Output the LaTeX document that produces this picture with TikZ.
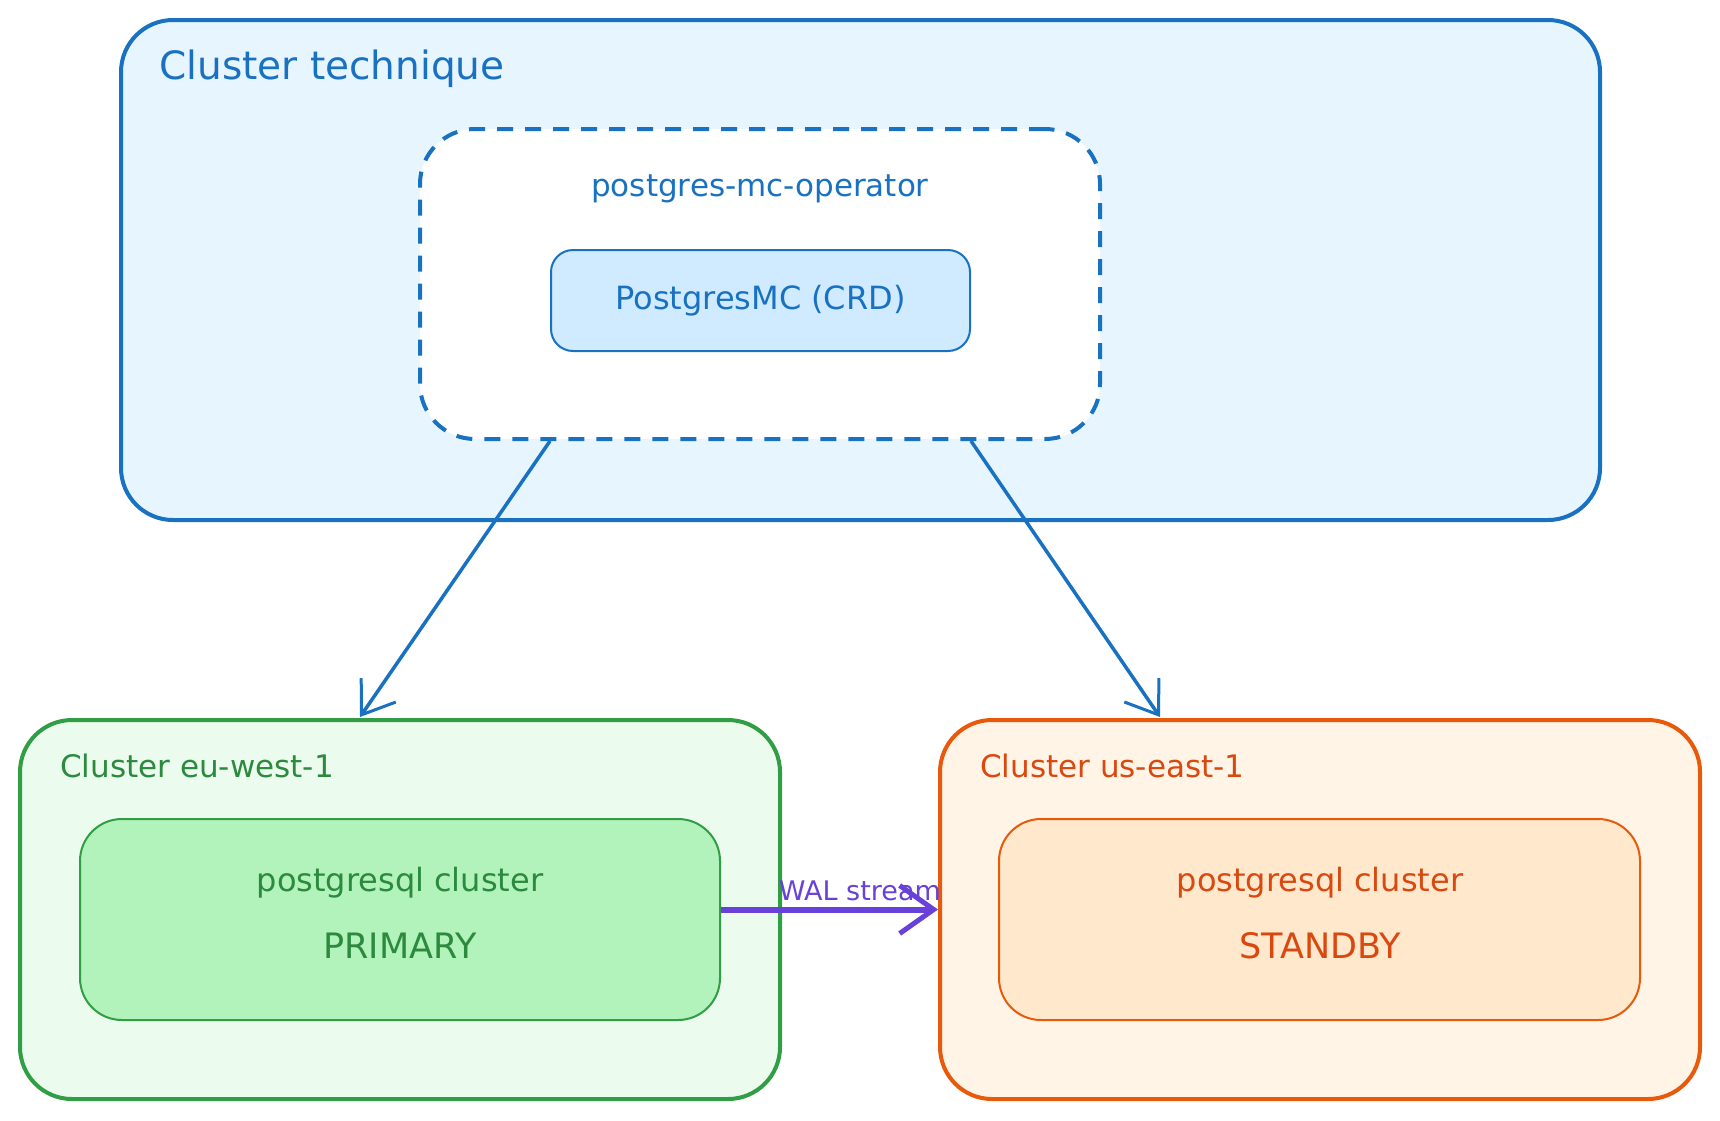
\documentclass[tikz,border=0pt]{standalone}
\usepackage{fontspec}
\setmainfont{DejaVu Sans}
\usetikzlibrary{arrows.meta}

\definecolor{techblue}{HTML}{1971C2}
\definecolor{techfill}{HTML}{E7F5FF}
\definecolor{crdfill}{HTML}{D0EBFF}
\definecolor{eugreen}{HTML}{2F9E44}
\definecolor{eutext}{HTML}{2B8A3E}
\definecolor{eufill}{HTML}{EBFBEE}
\definecolor{euinfill}{HTML}{B2F2BB}
\definecolor{usorange}{HTML}{E8590C}
\definecolor{ustext}{HTML}{D9480F}
\definecolor{usfill}{HTML}{FFF4E6}
\definecolor{usinfill}{HTML}{FFE8CC}
\definecolor{walpurple}{HTML}{6741D9}

\tikzset{every picture/.style={line width=2pt}}
\tikzset{
  clusterbox/.style={draw, line width=4pt, rounded corners=52pt, inner sep=0pt},
  innerbox/.style={draw, line width=2pt, rounded corners=42pt, inner sep=0pt},
  lbl/.style={font=\fontsize{32}{36}\selectfont},
  role/.style={font=\fontsize{35}{40}\selectfont},
  title/.style={font=\fontsize{31}{36}\selectfont, anchor=west},
  push/.style={draw=techblue, line width=3.5pt, -{Straight Barb[length=30pt,width=42pt,line width=3pt]}},
}

\begin{document}
\begin{tikzpicture}[x=1pt,y=1pt,yscale=-1,xscale=1]
\useasboundingbox (0,0) rectangle (1720,1120);
% cluster technique
\node [clusterbox, draw=techblue, fill=techfill, minimum width=1479pt, minimum height=500pt] (tech) at (860.5,270) {};
\node [anchor=west, text=techblue, font=\fontsize{39}{44}\selectfont] (techtitle) at (155,69) {Cluster technique};
\node [draw=techblue, fill=white, line width=4pt, dash pattern=on 16pt off 12pt, rounded corners=55pt, minimum width=680pt, minimum height=310pt] (op) at (760,284) {};
\node [lbl, text=techblue, font=\fontsize{31}{36}\selectfont] (opname) at (760,189) {postgres-mc-operator};
\node [draw=techblue, fill=crdfill, rounded corners=22pt, minimum width=419pt, minimum height=101pt] (crd) at (760.5,300.5) {};
\node [lbl, text=techblue] (crdname) at (crd) {PostgresMC (CRD)};

% eu-west-1
\node [clusterbox, draw=eugreen, fill=eufill, minimum width=760pt, minimum height=379pt] (eu) at (400,909.5) {};
\node [title, text=eutext] (eutitle) at (56,766) {Cluster eu-west-1};
\node [innerbox, draw=eugreen, fill=euinfill, minimum width=640pt, minimum height=201pt] (euin) at (400,919.5) {};
\node [lbl, text=eutext] (eudb) at (400,883) {postgresql cluster};
\node [role, text=eutext] (eurole) at (400,946) {PRIMARY};

% us-east-1
\node [clusterbox, draw=usorange, fill=usfill, minimum width=760pt, minimum height=379pt] (us) at (1320,909.5) {};
\node [title, text=ustext] (ustitle) at (976,766) {Cluster us-east-1};
\node [innerbox, draw=usorange, fill=usinfill, minimum width=641pt, minimum height=201pt] (usin) at (1319.5,919.5) {};
\node [lbl, text=ustext] (usdb) at (1320,883) {postgresql cluster};
\node [role, text=ustext] (usrole) at (1320,946) {STANDBY};

% arrows
\coordinate (eutop) at (360,717);
\coordinate (ustop) at (1160,717);
\draw [push] (op.south -| crd.west) -- (eutop);
\draw [push] (op.south -| crd.east) -- (ustop);
\path (euin.east) ++(0,-10) coordinate (walstart);
\path (us.west) ++(0,-1) coordinate (walend);
\draw [draw=walpurple, line width=6pt, -{Straight Barb[length=34pt,width=48pt,line width=5pt]}] (walstart) -- (walend |- walstart) node [pos=0.64, above=2pt, text=walpurple, font=\fontsize{27}{30}\selectfont] {WAL stream};
\end{tikzpicture}
\end{document}
